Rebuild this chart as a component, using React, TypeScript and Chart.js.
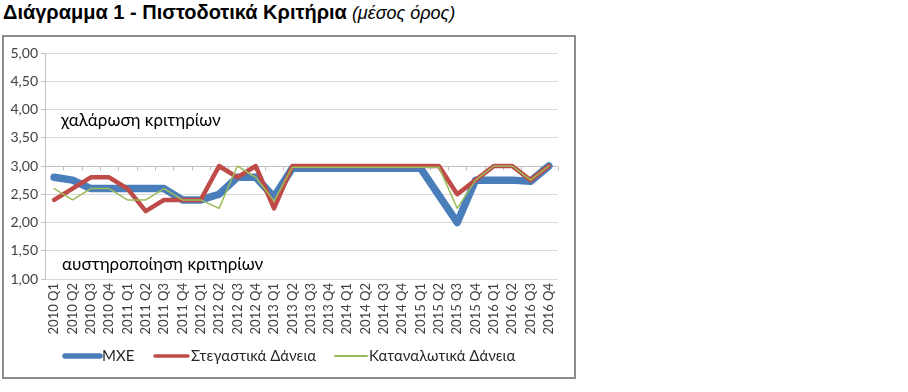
import React, { useEffect, useRef } from "react";
import { Chart, registerables } from "chart.js";

Chart.register(...registerables);

const categories = [
  "2010 Q1", "2010 Q2", "2010 Q3", "2010 Q4",
  "2011 Q1", "2011 Q2", "2011 Q3", "2011 Q4",
  "2012 Q1", "2012 Q2", "2012 Q3", "2012 Q4",
  "2013 Q1", "2013 Q2", "2013 Q3", "2013 Q4",
  "2014 Q1", "2014 Q2", "2014 Q3", "2014 Q4",
  "2015 Q1", "2015 Q2", "2015 Q3", "2015 Q4",
  "2016 Q1", "2016 Q2", "2016 Q3", "2016 Q4",
];

const mxe = [
  2.8, 2.75, 2.6, 2.6, 2.6, 2.6, 2.6, 2.4, 2.4, 2.5, 2.8, 2.8, 2.45,
  2.96, 2.96, 2.96, 2.96, 2.96, 2.96, 2.96, 2.96,
  2.48, 2.0, 2.75, 2.75, 2.75, 2.73, 3.0,
];

const housing = [
  2.4, 2.6, 2.8, 2.8, 2.6, 2.2, 2.4, 2.4, 2.4, 3.0, 2.8, 3.0, 2.25,
  3.0, 3.0, 3.0, 3.0, 3.0, 3.0, 3.0, 3.0, 3.0,
  2.5, 2.75, 3.0, 3.0, 2.75, 3.0,
];

const consumer = [
  2.6, 2.4, 2.6, 2.6, 2.4, 2.4, 2.6, 2.4, 2.4, 2.25, 3.0, 2.8, 2.38,
  2.98, 2.98, 2.98, 2.98, 2.98, 2.98, 2.98, 2.98, 2.98,
  2.25, 2.75, 3.0, 3.0, 2.75, 3.0,
];

const seriesNames = ["ΜΧΕ", "Στεγαστικά Δάνεια", "Καταναλωτικά Δάνεια"];
const seriesColors = ["#4A7EBB", "#BE4B48", "#9BBB59"];
const seriesWidths = [7.5, 4.5, 1.5];
const legendWidths = [5.5, 3.5, 2];

const yMin = 1;
const yMax = 5;
const yStep = 0.5;
const axisCrossValue = 3;

const titleMain = "Διάγραμμα 1 - Πιστοδοτικά Κριτήρια";
const titleSub = "(μέσος όρος)";
const easingLabel = "χαλάρωση κριτηρίων";
const easingValue = 3.81;
const tighteningLabel = "αυστηροποίηση κριτηρίων";
const tighteningValue = 1.25;

const FONT = "Lato, 'Open Sans', 'Noto Sans', sans-serif";

const decorPlugin = {
  id: "decor",
  beforeDatasetsDraw(chart: any) {
    const { ctx, chartArea, scales } = chart;
    const x = scales.x;
    const y = scales.y;
    const yy = Math.round(y.getPixelForValue(axisCrossValue)) + 0.5;
    const n = categories.length;
    const w = (chartArea.right - chartArea.left) / n;
    ctx.save();
    ctx.strokeStyle = "#bfbfbf";
    ctx.lineWidth = 1;
    ctx.beginPath();
    ctx.moveTo(chartArea.left, yy);
    ctx.lineTo(chartArea.right, yy);
    for (let i = 0; i <= n; i++) {
      const xx = Math.round(x.getPixelForValue(0) - w / 2 + i * w) + 0.5;
      ctx.moveTo(xx, yy);
      ctx.lineTo(xx, yy + 4);
    }
    ctx.stroke();

    ctx.fillStyle = "#000";
    ctx.font = `17px ${FONT}`;
    ctx.textAlign = "left";
    ctx.textBaseline = "middle";
    ctx.fillText(easingLabel, chartArea.left + 16, y.getPixelForValue(easingValue));
    ctx.fillText(tighteningLabel, chartArea.left + 17, y.getPixelForValue(tighteningValue));
    ctx.restore();
  },
  afterDraw(chart: any) {
    const { ctx } = chart;
    const ly = 356;
    const items = [
      { x0: 65, x1: 100, tx: 102 },
      { x0: 155, x1: 188, tx: 191 },
      { x0: 335, x1: 367, tx: 369 },
    ];
    ctx.save();
    ctx.font = `15px ${FONT}`;
    ctx.textBaseline = "middle";
    ctx.textAlign = "left";
    items.forEach((it, i) => {
      ctx.strokeStyle = seriesColors[i];
      ctx.lineWidth = legendWidths[i];
      ctx.lineCap = "round";
      ctx.beginPath();
      ctx.moveTo(it.x0, ly);
      ctx.lineTo(it.x1, ly);
      ctx.stroke();
      ctx.fillStyle = "#262626";
      ctx.fillText(seriesNames[i], it.tx, ly);
    });
    ctx.restore();
  },
};

export default function App() {
  const canvasRef = useRef<HTMLCanvasElement | null>(null);

  useEffect(() => {
    const canvas = canvasRef.current;
    if (!canvas) return;
    const datasets = [mxe, housing, consumer].map((data, i) => ({
      label: seriesNames[i],
      data,
      borderColor: seriesColors[i],
      backgroundColor: seriesColors[i],
      borderWidth: seriesWidths[i],
      pointRadius: 0,
      pointHoverRadius: 0,
      tension: 0,
      fill: false,
      borderJoinStyle: "round" as const,
      borderCapStyle: "round" as const,
      order: 3 - i,
    }));
    const chart = new Chart(canvas, {
      type: "line",
      data: { labels: categories, datasets },
      options: {
        animation: false,
        responsive: false,
        maintainAspectRatio: false,
        layout: { padding: { left: 4, right: 350, top: 53, bottom: 43 } },
        plugins: {
          legend: { display: false },
          tooltip: { enabled: false },
          title: { display: false },
        },
        scales: {
          x: {
            type: "category",
            offset: true,
            grid: { display: false, drawTicks: false },
            border: { display: false },
            ticks: {
              autoSkip: false,
              minRotation: 90,
              maxRotation: 90,
              padding: 4,
              color: "#404040",
              font: { family: FONT, size: 13 },
            },
            afterFit(scale: any) {
              scale.height = 70;
            },
          },
          y: {
            min: yMin,
            max: yMax,
            ticks: {
              stepSize: yStep,
              padding: 3,
              color: "#404040",
              font: { family: FONT, size: 14 },
              callback: (v: any) => Number(v).toFixed(2).replace(".", ","),
            },
            grid: {
              color: "#d9d9d9",
              tickColor: "#bfbfbf",
              tickLength: 4,
              drawTicks: true,
            },
            border: { display: true, color: "#bfbfbf", width: 1 },
            afterFit(scale: any) {
              scale.width = 41;
            },
          },
        },
      },
      plugins: [decorPlugin],
    });
    return () => chart.destroy();
  }, []);

  return (
    <div
      style={{
        position: "absolute",
        left: 0,
        top: 0,
        width: 908,
        height: 392,
        background: "#fff",
        overflow: "hidden",
      }}
    >
      <div
        style={{
          position: "absolute",
          left: 3,
          top: 1,
          lineHeight: "22px",
          whiteSpace: "nowrap",
          fontFamily: "'Liberation Sans', Arial, sans-serif",
          color: "#000",
        }}
      >
        <span style={{ fontWeight: "bold", fontSize: 20 }}>{titleMain}</span>
        <span style={{ fontStyle: "italic", fontSize: 18 }}> {titleSub}</span>
      </div>
      <div
        style={{
          position: "absolute",
          left: 2,
          top: 35,
          width: 574,
          height: 344,
          boxSizing: "border-box",
          border: "2px solid #8c8c8c",
        }}
      />
      <canvas
        ref={canvasRef}
        width={908}
        height={392}
        style={{ position: "absolute", left: 0, top: 0, width: 908, height: 392 }}
      />
    </div>
  );
}
